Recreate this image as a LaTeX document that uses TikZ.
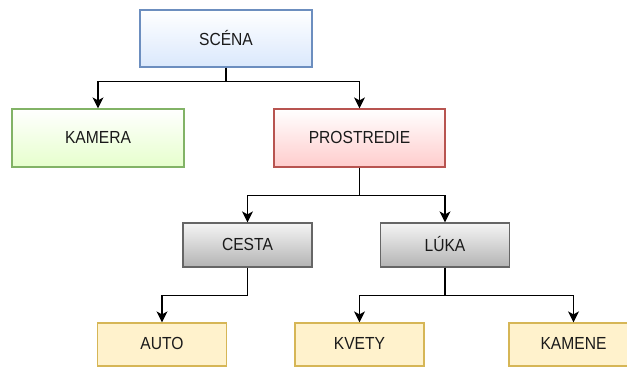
\documentclass[tikz,border=0pt]{standalone}
\usepackage{graphicx}
\usepackage{fontspec}
\setmainfont{Liberation Sans}
\usetikzlibrary{arrows.meta}

\definecolor{blueFill}{HTML}{DAE8FC}
\definecolor{blueLine}{HTML}{6C8EBF}
\definecolor{greenFill}{HTML}{E6FFCC}
\definecolor{greenLine}{HTML}{82B366}
\definecolor{redFill}{HTML}{FFCCCC}
\definecolor{redLine}{HTML}{B85450}
\definecolor{grayTop}{HTML}{F5F5F5}
\definecolor{grayBot}{HTML}{B3B3B3}
\definecolor{grayLine}{HTML}{666666}
\definecolor{yellowFill}{HTML}{FFF2CC}
\definecolor{yellowLine}{HTML}{D6B656}
\definecolor{inkText}{HTML}{1A1A1A}

% label text: slightly tall letters, set a little above the box centre
\newcommand{\lbl}[1]{\raisebox{1.5pt}{\scalebox{1}[1.12]{#1}}}

\tikzset{
  box/.style={rectangle, line width=1.2pt, inner sep=0pt, text=inkText,
    font=\fontsize{15.6}{18}\selectfont},
  bluebox/.style={box, draw=blueLine, top color=white, bottom color=blueFill,
    minimum width=172pt, minimum height=57pt},
  greenbox/.style={box, draw=greenLine, top color=white, bottom color=greenFill,
    minimum width=172pt, minimum height=58pt},
  redbox/.style={box, draw=redLine, top color=white, bottom color=redFill,
    minimum width=171pt, minimum height=58pt},
  graybox/.style={box, draw=grayLine, top color=grayTop, bottom color=grayBot,
    minimum width=129pt, minimum height=44pt},
  leafbox/.style={box, draw=yellowLine, fill=yellowFill,
    minimum width=129pt, minimum height=43pt},
  conn/.style={draw=black, line width=1.4pt,
    -{Stealth[length=11pt,width=11pt,inset=3pt]}},
}

\begin{document}
\begin{tikzpicture}[x=1pt, y=-1pt]
  \useasboundingbox (0,0) rectangle (627,367);
  \fill[white] (0,0) rectangle (627,367);

  % tree nodes
  \node[bluebox]  (scena)      at (226,38.5)  {\lbl{SCÉNA}};
  \node[greenbox] (kamera)     at (98,138)    {\lbl{KAMERA}};
  \node[redbox]   (prostredie) at (359.5,138) {\lbl{PROSTREDIE}};
  \node[graybox]  (cesta)      at (247.5,245) {\lbl{CESTA}};
  \node[graybox]  (luka)       at (445,245)   {\lbl{LÚKA}};
  \node[leafbox]  (auto)       at (162,344.5) {\lbl{AUTO}};
  \node[leafbox]  (kvety)      at (359.5,344.5) {\lbl{KVETY}};
  \node[leafbox]  (kamene)     at (573.5,344.5) {\lbl{KAMENE}};

  % elbow connectors
  \draw[conn] (scena.south) -- ++(0,14) -| (kamera.north);
  \draw[conn] (scena.south) -- ++(0,14) -| (prostredie.north);
  \draw[conn] (prostredie.south) -- ++(0,28) -| (cesta.north);
  \draw[conn] (prostredie.south) -- ++(0,28) -| (luka.north);
  \draw[conn] (cesta.south) -- ++(0,28) -| (auto.north);
  \draw[conn] (luka.south) -- ++(0,28) -| (kvety.north);
  \draw[conn] (luka.south) -- ++(0,28) -| (kamene.north);
\end{tikzpicture}
\end{document}
